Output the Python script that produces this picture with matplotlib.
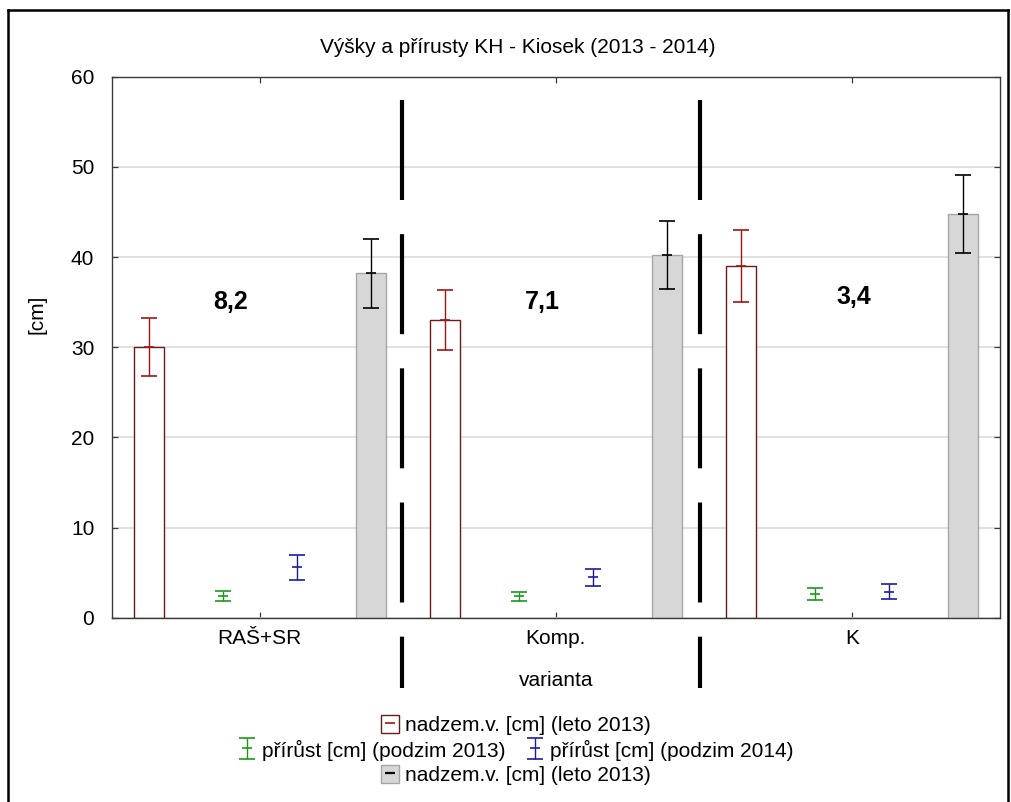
import numpy as np
import matplotlib
matplotlib.use("Agg")
import matplotlib.pyplot as plt
from matplotlib.lines import Line2D
from matplotlib.legend_handler import HandlerTuple

plt.rcParams['font.family'] = ['Liberation Sans', 'DejaVu Sans']

# ---- data -------------------------------------------------------------
categories = ['RAŠ+SR', 'Komp.', 'K']

leto2013_mean = [30.0, 33.0, 39.0]          # nadzem. v. [cm] (leto 2013), white bars
leto2013_err = [3.2, 3.3, 4.0]

podzim2013_mean = [2.4, 2.4, 2.65]          # přírůst [cm] (podzim 2013)
podzim2013_err = [0.55, 0.5, 0.65]

podzim2014_mean = [5.6, 4.5, 2.9]           # přírůst [cm] (podzim 2014)
podzim2014_err = [1.4, 0.95, 0.8]

leto2014_mean = [38.2, 40.2, 44.8]          # grey bars
leto2014_err = [3.8, 3.8, 4.3]

diff_labels = ['8,2', '7,1', '3,4']
diff_x = [-0.10, 0.955, 2.005]
diff_y = [34.25, 34.25, 34.8]

separators = [0.48, 1.487]

title = 'Výšky a přírusty KH - Kiosek (2013 - 2014)'
legend_labels = ['nadzem.v. [cm] (leto 2013)',
                 'přírůst [cm] (podzim 2013)',
                 'přírůst [cm] (podzim 2014)',
                 'nadzem.v. [cm] (leto 2013)']

# ---- styling ----------------------------------------------------------
FS = 15
red = '#a01414'
red_edge = '#6a1c1c'
green = '#1a9a1a'
blue = '#1c1ca0'
grey_fill = '#d7d7d7'
grey_edge = '#a6a6a6'
spine_c = '#3a3a3a'

W, H = 1011, 802
fig = plt.figure(figsize=(W / 100, H / 100), dpi=100)
ax = fig.add_axes([111.7 / W, 1 - 617.7 / H, (1000 - 111.7) / W, (617.7 - 76.7) / H])

x = np.arange(len(categories))
offs = [-0.375, -0.125, 0.125, 0.375]
bw = 0.1

b1 = ax.bar(x + offs[0], leto2013_mean, bw, color='white', edgecolor=red_edge, lw=1.0, zorder=2)
b4 = ax.bar(x + offs[3], leto2014_mean, bw, color=grey_fill, edgecolor=grey_edge, lw=1.0, zorder=2)

eb_kw = dict(fmt='_', ms=7, mew=1.2, capsize=5.5, capthick=1.0, elinewidth=1.0, zorder=3)
e1 = ax.errorbar(x + offs[0], leto2013_mean, yerr=leto2013_err, color=red, **eb_kw)
e2 = ax.errorbar(x + offs[1], podzim2013_mean, yerr=podzim2013_err, color=green, **eb_kw)
e3 = ax.errorbar(x + offs[2], podzim2014_mean, yerr=podzim2014_err, color=blue, **eb_kw)
e4 = ax.errorbar(x + offs[3], leto2014_mean, yerr=leto2014_err, color='black', **eb_kw)

for xs, ys, s in zip(diff_x, diff_y, diff_labels):
    ax.text(xs, ys, s, ha='center', va='baseline', fontsize=18, fontweight='bold', zorder=4)

# dashed separators between the variants
for sx in separators:
    ax.plot([sx, sx], [57.4, -7.8], color='black', lw=3,
            linestyle=(0, (24, 8.2)), solid_capstyle='butt',
            dash_capstyle='butt', clip_on=False, zorder=5)

ax.set_xlim(-0.5, 2.5)
ax.set_ylim(0, 60)
ax.set_xticks(x)
ax.set_xticklabels(categories)
ax.set_yticks(np.arange(0, 61, 10))
ax.yaxis.grid(True, color='#dcdcdc', lw=1.2)
ax.set_axisbelow(True)
ax.tick_params(axis='both', direction='in', top=True, right=True,
               labelsize=FS, length=4.5, width=0.9, color=spine_c)
ax.tick_params(axis='y', pad=12.5)
ax.tick_params(axis='x', pad=8)
for sp in ax.spines.values():
    sp.set_color(spine_c)
    sp.set_linewidth(1.0)

ax.set_xlabel('varianta', fontsize=FS)
ax.xaxis.set_label_coords(0.5, -0.098)
ax.set_ylabel('[cm]', fontsize=FS)
ax.yaxis.set_label_coords(-0.073, 0.56)

fig.text(518 / W, 1 - 53 / H, title, ha='center', va='baseline', fontsize=FS)

# ---- legend: three centred rows ---------------------------------------
m1 = Line2D([], [], marker='_', ls='none', color=red, ms=7, mew=1.2)
m4 = Line2D([], [], marker='_', ls='none', color='black', ms=7, mew=1.6)
leg_kw = dict(frameon=False, fontsize=FS, handlelength=0.85, handleheight=1.0,
              handletextpad=0.3, borderpad=0, borderaxespad=0, loc='center')
cx = 516 / W
l1 = fig.legend([(b1.patches[0], m1)], [legend_labels[0]],
                handler_map={tuple: HandlerTuple(ndivide=1)},
                bbox_to_anchor=(cx, 1 - 725 / H), **leg_kw)
l2 = fig.legend([e2, e3], legend_labels[1:3], ncol=2, columnspacing=1.0,
                bbox_to_anchor=(cx, 1 - 750 / H), **leg_kw)
l3 = fig.legend([(b4.patches[0], m4)], [legend_labels[3]],
                handler_map={tuple: HandlerTuple(ndivide=1)},
                bbox_to_anchor=(cx, 1 - 775 / H), **leg_kw)

# ---- outer frame ------------------------------------------------------
fl, fr, ft = 8 / W, 1008 / W, 1 - 10 / H
for xs, ys in [([fl, fl], [0, ft]), ([fl, fr], [ft, ft]), ([fr, fr], [ft, 0])]:
    fig.add_artist(Line2D(xs, ys, color='black', lw=1.8, transform=fig.transFigure))

fig.savefig('out.png', dpi=100)
